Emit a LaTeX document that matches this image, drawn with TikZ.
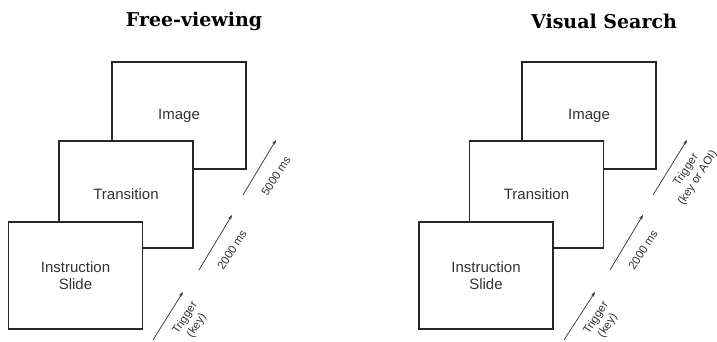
\documentclass[tikz,border=0pt]{standalone}
\usepackage{fontspec}
\setmainfont{Liberation Sans}
\newfontfamily\titlefont{DejaVu Serif}
\usetikzlibrary{arrows.meta}
\begin{document}
\begin{tikzpicture}[x=1pt,y=1pt,
  slide/.style={draw=black!85, line width=1.3pt, fill=white, minimum width=134pt, minimum height=107pt, inner sep=0pt, align=center, font=\fontsize{15}{17.5}\selectfont, text=black!80},
  flow/.style={draw=black!80, line width=0.7pt, -{Stealth[length=5pt,width=3.5pt]}},
  lab/.style={rotate=57, align=center, font=\fontsize{11.5}{14}\selectfont, text=black!80, inner sep=0pt},
  ttl/.style={font=\titlefont\bfseries\fontsize{19}{22}\selectfont}]
\useasboundingbox (0,0) rectangle (717,342);
% Left panel
\node[ttl] (t1) at (194,321) {Free-viewing};
\node[slide] (img1) at (179,226.5) {Image};
\node[slide] (tr1) at (126,147.5) {Transition};
\node[slide] (ins1) at (75.5,66.5) {Instruction\\Slide};
\coordinate (a1s) at (153,2);   \coordinate (a1e) at (183,50);
\coordinate (a2s) at (199,72);  \coordinate (a2e) at (232,127);
\coordinate (a3s) at (243,147); \coordinate (a3e) at (276,202);
\draw[flow] (a1s) -- (a1e);
\draw[flow] (a2s) -- (a2e);
\draw[flow] (a3s) -- (a3e);
\node[lab] (l1) at (191,20) {Trigger\\(key)};
\node[lab] (l2) at (232,92) {2000 ms};
\node[lab] (l3) at (276,166) {5000 ms};
% Right panel
\node[ttl] (t2) at (604,321) {Visual Search};
\node[slide] (img2) at (589,226.5) {Image};
\node[slide] (tr2) at (536.5,147.5) {Transition};
\node[slide] (ins2) at (486,66.5) {Instruction\\Slide};
\coordinate (b1s) at (564,2);   \coordinate (b1e) at (595,50);
\coordinate (b2s) at (610,72);  \coordinate (b2e) at (643,127);
\coordinate (b3s) at (653,147); \coordinate (b3e) at (687,202);
\draw[flow] (b1s) -- (b1e);
\draw[flow] (b2s) -- (b2e);
\draw[flow] (b3s) -- (b3e);
\node[lab] (m1) at (602,20) {Trigger\\(key)};
\node[lab] (m2) at (643,92) {2000 ms};
\node[lab] (m3) at (692,168) {Trigger\\(key or AOI)};
\end{tikzpicture}
\end{document}
